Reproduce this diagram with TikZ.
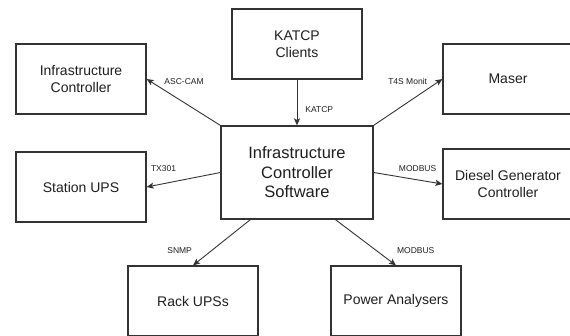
\documentclass[tikz,border=0pt]{standalone}
\usepackage{fontspec}
\setmainfont{Liberation Sans}
\usepackage{xcolor}
\usepackage{tikz}
\usetikzlibrary{positioning, arrows.meta}

\definecolor{linegray}{HTML}{333333}
\definecolor{textgray}{HTML}{1E1E1E}

\tikzset{
  box/.style={draw=linegray, line width=1.2pt, minimum width=130pt, minimum height=70pt,
    align=center, text=textgray, font=\fontsize{14}{17.5}\selectfont},
  lbl/.style={font=\fontsize{8.5}{10}\selectfont, text=textgray, inner sep=1pt}
}

\begin{document}
\begin{tikzpicture}[x=1pt, y=-1pt, ->, >={Stealth[length=7pt, width=6pt, inset=1.5pt]},
  line width=0.9pt, draw=linegray]
\useasboundingbox (0,0) rectangle (570,335);
\clip (0,0) rectangle (570,335);
% Bloques
\node[box, minimum width=152pt, minimum height=93pt, font=\fontsize{16.5}{19.5}\selectfont]
  (ics) at (297,172.5) {Infrastructure\\Controller\\Software};
\node[box] (katcp) at (297,44) {KATCP\\Clients};
\node[box] (ictl) at (81,79) {Infrastructure\\Controller};
\node[box] (sups) at (81,187) {Station UPS};
\node[box] (maser) at (508,79) {Maser};
\node[box] (dgc) at (508,184) {Diesel Generator\\Controller};
\node[box] (rups) at (193,301) {Rack UPSs};
\node[box] (pwr) at (396,301) {Power Analysers};
% Conexiones
\path
(ics.north west) edge node[lbl, pos=.94, right=12pt] {ASC-CAM} (ictl.east)
(katcp.south) edge node[lbl, pos=.66, right=7pt] {KATCP} (ics.north)
(ics.north east) edge node[lbl, pos=.957, left=11pt] {T4S Monit} (maser.west)
(ics.west) edge node[lbl, pos=.77, above=10.5pt] {TX301} (sups.east)
(ics.east) edge node[lbl, pos=.64, above=6.7pt] {MODBUS} (dgc.west)
([xshift=30pt]ics.south west) edge node[lbl, pos=.68, left=18pt] {SNMP} (rups.north)
([xshift=115pt]ics.south west) edge node[lbl, pos=.68, right=19pt] {MODBUS} (pwr.north);
\end{tikzpicture}
\end{document}
